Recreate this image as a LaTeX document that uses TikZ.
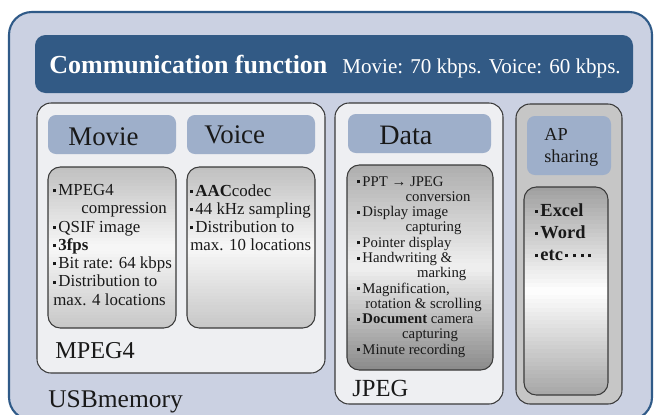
\documentclass[tikz,border=0pt]{standalone}
\usepackage{fontspec}
\setmainfont{Liberation Serif}
\definecolor{usbfill}{HTML}{CBD1E2}
\definecolor{usbline}{HTML}{2F5A88}
\definecolor{barblue}{HTML}{325A85}
\definecolor{headblue}{HTML}{9EAFCA}
\definecolor{panelgray}{HTML}{EEEFF2}
\definecolor{apgray}{HTML}{C6C6C6}
\definecolor{edge}{HTML}{3A3A3A}
\newcommand\sqb{\raisebox{0.42ex}{\rule{1.7pt}{1.7pt}}\hspace{1.2pt}}
\newcommand\fs[2]{\fontsize{#1}{#2}\selectfont}
% list box with a grey-white-grey fill: x1 y1 x2 y2 top mid bottom (black %)
\newcommand\gradbox[7]{%
  \begin{scope}
    \clip[rounded corners=7pt] (#1,#2) rectangle (#3,#4);
    \foreach \i in {0,...,49}{
      \pgfmathsetmacro\t{(\i+0.5)/50}
      \pgfmathsetmacro\p{\t<0.5 ? #5+(#6-#5)*\t*2 : #6+(#7-#6)*(\t-0.5)*2}
      \fill[black!\p] (#1,{#2+(#4-#2)*\i/50}) rectangle (#3,{#2+(#4-#2)*(\i+1)/50+0.6});
    }
  \end{scope}
  \draw[list] (#1,#2) rectangle (#3,#4);}
\begin{document}
\begin{tikzpicture}[x=0.02cm, y=-0.02cm,
  panel/.style={draw=edge, line width=0.6pt, rounded corners=8pt},
  head/.style={fill=headblue, rounded corners=4.5pt},
  list/.style={draw=edge, line width=0.6pt, rounded corners=7pt},
  every node/.append style={inner sep=0pt, text=black!90}]
  \useasboundingbox (0,0) rectangle (655,414);
  \draw[fill=usbfill, draw=usbline, line width=1.2pt, rounded corners=13pt] (9,12) rectangle (652,420);
  \fill[barblue, rounded corners=6pt] (35,35) rectangle (633,93);
  \node[anchor=base west, text=white, font=\fs{14.8}{16}\bfseries] (title) at (49,73) {Communication function};
  \node[anchor=base west, text=white, font=\fs{12}{14}] (rate) at (342,73) {Movie: 70 kbps. Voice: 60 kbps.};
  % Movie / Voice
  \draw[panel, fill=panelgray] (37,103) rectangle (325,373);
  \fill[head] (48,115) rectangle (176,154);         \node[anchor=base west, font=\fs{15.3}{17}] (hdmovie) at (68,145) {Movie};
  \fill[head] (187,115) rectangle (315,154);        \node[anchor=base west, font=\fs{15.3}{17}] (hdvoice) at (204,143) {Voice};
  \gradbox{48}{167}{176}{328}{25}{3}{22}
  \gradbox{187}{167}{315}{328}{25}{3}{22}
  \node[anchor=north west, align=left, font=\fs{9.6}{10.4}] (txmovie) at (53,184)
    {\sqb MPEG4\\ \hspace*{16pt}compression\\ \sqb QSIF image\\ \sqb\textbf{3fps}\\
     \sqb Bit rate: 64 kbps\\ \sqb Distribution to\\ max. 4 locations};
  \node[anchor=north west, align=left, font=\fs{9.6}{10.4}] (txvoice) at (190,184)
    {\sqb\textbf{AAC}codec\\ \sqb 44 kHz sampling\\ \sqb Distribution to\\ max. 10 locations};
  \node[anchor=base west, font=\fs{13.8}{16}] (lbmpeg) at (55,358) {MPEG4};
  % Data
  \draw[panel, fill=panelgray] (335,103) rectangle (503,404);
  \fill[head] (348,114) rectangle (491,153);        \node[anchor=base west, font=\fs{16}{18}] (hddata) at (379,144) {Data};
  \gradbox{347}{165}{493}{370}{32}{6}{46}
  \node[anchor=north west, align=left, font=\fs{8.4}{8.7}] (txdata) at (357,176)
    {\sqb PPT \textrightarrow{} JPEG\\ \hspace*{27.5pt}conversion\\ \sqb Display image\\ \hspace*{27.5pt}capturing\\
     \sqb Pointer display\\ \sqb Handwriting \&\\ \hspace*{34pt}marking\\ \sqb Magnification,\\
     \hspace*{4.5pt}rotation \& scrolling\\ \sqb\textbf{Document} camera\\ \hspace*{25.5pt}capturing\\ \sqb Minute recording};
  \node[anchor=base west, font=\fs{14}{16}] (lbjpeg) at (352,396) {JPEG};
  % AP sharing
  \draw[panel, fill=apgray] (516,104) rectangle (622,404);
  \fill[head] (527,116) rectangle (611,175);        \node[anchor=north west, align=left, font=\fs{10.4}{12.5}] (hdap) at (544,128) {AP\\sharing};
  \gradbox{524}{187}{608}{395}{38}{0}{35}
  \node[anchor=north west, align=left, font=\fs{10.5}{12.5}\bfseries] (txap) at (535,203)
    {\sqb Excel\\ \sqb Word\\ \sqb etc\hspace{1pt}\sqb\hspace{1.6pt}\sqb\hspace{1.6pt}\sqb\hspace{1.6pt}\sqb};
  \node[anchor=base west, font=\fs{14.5}{16}] (lbusb) at (48,407) {USBmemory};
\end{tikzpicture}
\end{document}
